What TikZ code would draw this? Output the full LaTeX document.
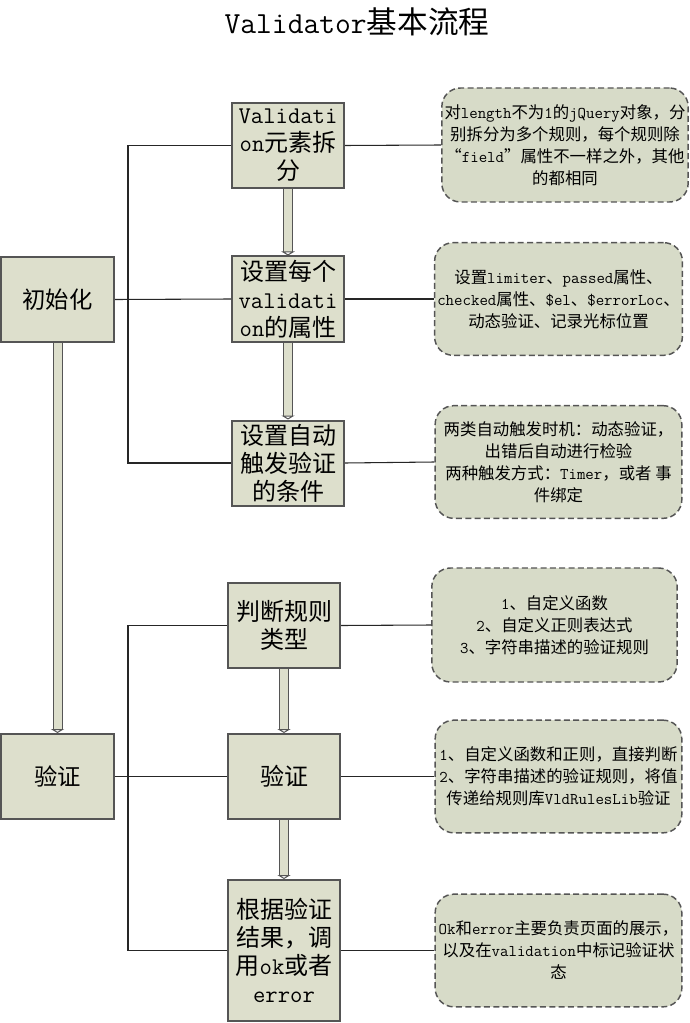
\documentclass[tikz,border=0pt]{standalone}
\usepackage{fontspec}
\setmainfont{Noto Sans CJK SC}
\newcommand{\latn}[1]{{\ttfamily #1}}
\usetikzlibrary{arrows.meta}
\definecolor{boxfill}{RGB}{221,223,204}
\definecolor{notefill}{RGB}{215,219,200}
\definecolor{boxline}{RGB}{85,85,85}

\begin{document}
\begin{tikzpicture}[x=0.75pt, y=-0.75pt,
    stepbox/.style={draw=boxline, line width=1.5pt, fill=boxfill, minimum width=84pt,
        minimum height=63.75pt, inner sep=0pt, align=center, font=\fontsize{18}{21}\selectfont},
    notebox/.style={draw=boxline, dashed, dash pattern=on 4.5pt off 2.5pt, line width=1.1pt,
        rounded corners=14pt, fill=notefill, minimum width=185pt, minimum height=84.5pt,
        inner sep=2pt, align=center, font=\fontsize{12.3}{16.5}\selectfont},
    link/.style={draw=black!85, line width=0.8pt},
    fatarrow/.style={draw=boxline, line width=0.75pt, double=boxfill, double distance=6pt,
        -{Triangle[open, length=3pt, width=10pt]}}
]
    \useasboundingbox (0,0) rectangle (689,1023);

    % title
    \node[font=\fontsize{23}{25}\selectfont] (title) at (357,22) {\latn{Validator}基本流程};

    % left column
    \node[stepbox, minimum width=85pt, font=\fontsize{17.5}{21}\selectfont] (init) at (57.5,299.5) {初始化};
    \node[stepbox, minimum width=85pt, font=\fontsize{17.5}{21}\selectfont] (check) at (57.5,776.5) {验证};

    % middle column
    \node[stepbox] (split) at (288,145.5) {\latn{Validati}\\\latn{on}元素拆\\分};
    \node[stepbox] (attr) at (288,299) {设置每个\\\latn{validati}\\\latn{on}的属性};
    \node[stepbox] (auto) at (288,463) {设置自动\\触发验证\\的条件};
    \node[stepbox] (type) at (284,625.5) {判断规则\\类型};
    \node[stepbox] (valid) at (284,776.5) {验证};
    \node[stepbox, minimum height=105.75pt] (result) at (284,950.5) {根据验证\\结果，调\\用\latn{ok}或者\\\latn{error}};

    % notes
    \node[notebox, minimum width=183pt, minimum height=85.5pt] (n1) at (565,145)
        {对\latn{length}不为\latn{1}的\latn{jQuery}对象，分\\别拆分为多个规则，每个规则除\\“\latn{field}”属性不一样之外，其他\\的都相同};
    \node[notebox] (n2) at (558.5,299)
        {设置\latn{limiter}、\latn{passed}属性、\\\latn{checked}属性、\latn{\$el}、\latn{\$errorLoc}、\\动态验证、记录光标位置};
    \node[notebox] (n3) at (558.5,462)
        {两类自动触发时机：动态验证，\\出错后自动进行检验\\两种触发方式：\latn{Timer}，或者 事\\件绑定};
    \node[notebox, minimum width=184pt, minimum height=85.5pt] (n4) at (554.5,625)
        {\latn{1}、自定义函数\\\latn{2}、自定义正则表达式\\\latn{3}、字符串描述的验证规则};
    \node[notebox] (n5) at (558.5,776.5)
        {\latn{1}、自定义函数和正则，直接判断\\\latn{2}、字符串描述的验证规则，将值\\传递给规则库\latn{VldRulesLib}验证};
    \node[notebox] (n6) at (558.5,950.5)
        {\latn{Ok}和\latn{error}主要负责页面的展示，\\以及在\latn{validation}中标记验证状\\态};

    % connectors
    \coordinate (bus) at (128,0);
    \draw[link] (init.east) -- (attr.west);
    \draw[link] (split.west) -| (bus |- auto.west) -- (auto.west);
    \draw[link] (check.east) -- (valid.west);
    \draw[link] (type.west) -| (bus |- result.west) -- (result.west);
    \foreach \a/\b in {split/n1, attr/n2, auto/n3, type/n4, valid/n5, result/n6}
        \draw[link] (\a.east) -- (\b.west);

    % fat arrows
    \foreach \a/\b in {split/attr, attr/auto, type/valid, valid/result, init/check}
        \draw[fatarrow] (\a.south) -- (\b.north);

\end{tikzpicture}
\end{document}
